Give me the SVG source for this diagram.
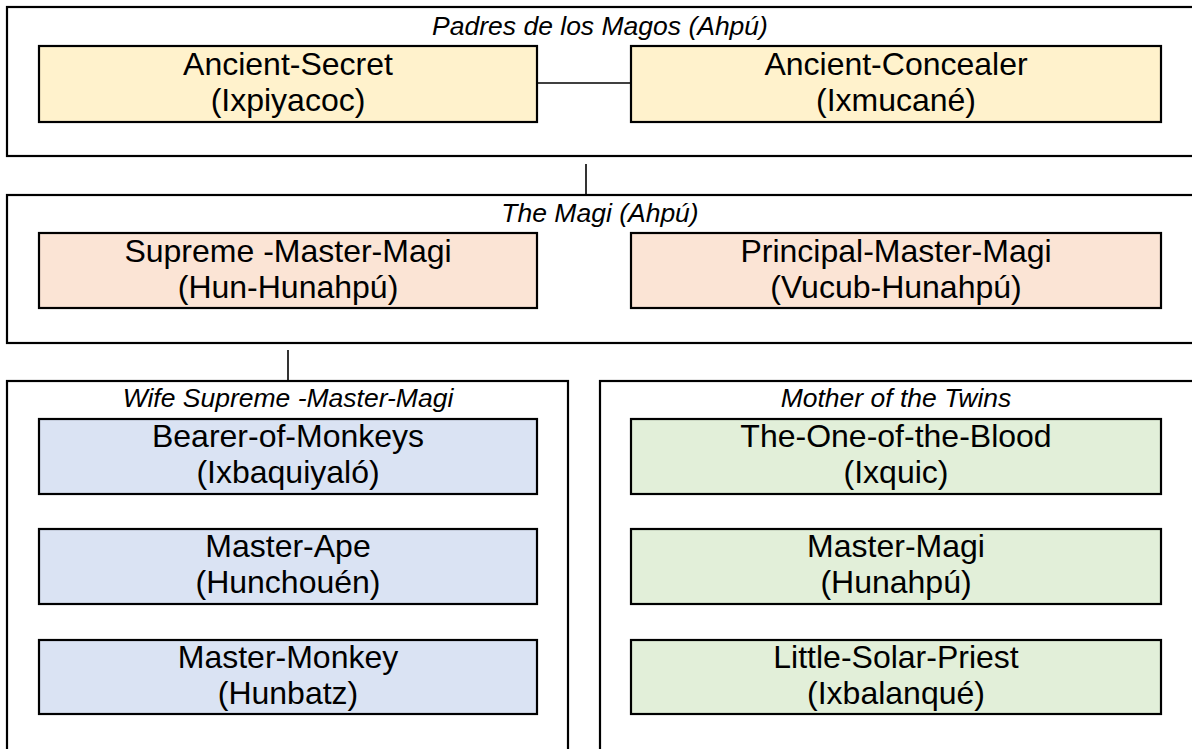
<svg xmlns="http://www.w3.org/2000/svg" width="1192" height="749" viewBox="0 0 1192 749">
<style>
.cont{fill:#ffffff;stroke:#000;stroke-width:2.2}
.box{stroke:#000;stroke-width:2.2}
.y{fill:#fff2cc}.p{fill:#fbe4d5}.b{fill:#dae3f3}.g{fill:#e2efd9}
.t{font-family:"Liberation Sans",Arial,sans-serif;font-size:32px;fill:#000;text-anchor:middle}
.h{font-family:"Liberation Sans",Arial,sans-serif;font-size:26.5px;font-style:italic;fill:#000;text-anchor:middle}
.c{stroke:#000;stroke-width:1.6;fill:none}
</style>
<rect width="1192" height="749" fill="#fff"/>
<g id="group-padres">
<rect class="cont" x="7" y="7" width="1190" height="149"/>
<text class="h" x="600" y="35">Padres de los Magos (Ahpú)</text>
</g>
<g id="group-magi">
<rect class="cont" x="7" y="195" width="1190" height="148"/>
<text class="h" x="600" y="222">The Magi (Ahpú)</text>
</g>
<g id="group-wife">
<rect class="cont" x="7" y="381" width="561" height="380"/>
<text class="h" x="288" y="407">Wife Supreme -Master-Magi</text>
</g>
<g id="group-mother">
<rect class="cont" x="600" y="381" width="597" height="380"/>
<text class="h" x="896" y="407">Mother of the Twins</text>
</g>
<g id="connectors">
<line class="c" x1="537" y1="83" x2="631" y2="83"/>
<line class="c" x1="586" y1="164" x2="586" y2="195"/>
<line class="c" x1="288" y1="350" x2="288" y2="381"/>
</g>
<g id="ixpiyacoc">
<rect class="box y" x="39" y="46" width="498" height="76"/>
<text class="t" x="288" y="75">Ancient-Secret</text>
<text class="t" x="288" y="111">(Ixpiyacoc)</text>
</g>
<g id="ixmucane">
<rect class="box y" x="631" y="46" width="530" height="76"/>
<text class="t" x="896" y="75">Ancient-Concealer</text>
<text class="t" x="896" y="111">(Ixmucané)</text>
</g>
<g id="hun-hunahpu">
<rect class="box p" x="39" y="233" width="498" height="75"/>
<text class="t" x="288" y="262">Supreme -Master-Magi</text>
<text class="t" x="288" y="298">(Hun-Hunahpú)</text>
</g>
<g id="vucub-hunahpu">
<rect class="box p" x="631" y="233" width="530" height="75"/>
<text class="t" x="896" y="262">Principal-Master-Magi</text>
<text class="t" x="896" y="298">(Vucub-Hunahpú)</text>
</g>
<g id="ixbaquiyalo">
<rect class="box b" x="39" y="419" width="498" height="75"/>
<text class="t" x="288" y="447">Bearer-of-Monkeys</text>
<text class="t" x="288" y="483">(Ixbaquiyaló)</text>
</g>
<g id="hunchouen">
<rect class="box b" x="39" y="529" width="498" height="75"/>
<text class="t" x="288" y="557">Master-Ape</text>
<text class="t" x="288" y="593">(Hunchouén)</text>
</g>
<g id="hunbatz">
<rect class="box b" x="39" y="640" width="498" height="74"/>
<text class="t" x="288" y="668">Master-Monkey</text>
<text class="t" x="288" y="704">(Hunbatz)</text>
</g>
<g id="ixquic">
<rect class="box g" x="631" y="419" width="530" height="75"/>
<text class="t" x="896" y="447">The-One-of-the-Blood</text>
<text class="t" x="896" y="483">(Ixquic)</text>
</g>
<g id="hunahpu">
<rect class="box g" x="631" y="529" width="530" height="75"/>
<text class="t" x="896" y="557">Master-Magi</text>
<text class="t" x="896" y="593">(Hunahpú)</text>
</g>
<g id="ixbalanque">
<rect class="box g" x="631" y="640" width="530" height="74"/>
<text class="t" x="896" y="668">Little-Solar-Priest</text>
<text class="t" x="896" y="704">(Ixbalanqué)</text>
</g>
</svg>
